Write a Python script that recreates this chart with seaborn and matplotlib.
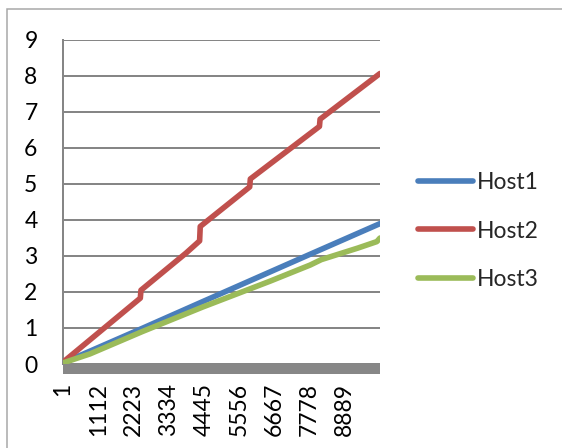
import matplotlib
matplotlib.use("Agg")
import matplotlib.pyplot as plt
from matplotlib.lines import Line2D
from matplotlib.patches import Rectangle
import pandas as pd
import seaborn as sns

# Cumulative values per host, sampled at the record index where the slope changes
host1_x = [1, 2500, 4400, 7800, 10000]
host1_y = [0.03, 0.99, 1.73, 3.05, 3.90]

host2_x = [1, 2440, 2460, 3880, 4310, 4330, 5890, 5910, 8090, 8110, 10000]
host2_y = [0.05, 1.83, 2.05, 3.08, 3.42, 3.82, 4.92, 5.14, 6.60, 6.80, 8.07]

host3_x = [1, 850, 2500, 4400, 6530, 7800, 8150, 9300, 9900, 10000]
host3_y = [0.03, 0.28, 0.90, 1.58, 2.30, 2.75, 2.90, 3.22, 3.40, 3.50]

hosts = ["Host1", "Host2", "Host3"]
colors = ["#4A7EBB", "#C0504D", "#9BBB59"]

x_ticks = [1, 1112, 2223, 3334, 4445, 5556, 6667, 7778, 8889]
x_tick_labels = ["1", "1112", "2223", "3334", "4445", "5556", "6667", "7778", "8889"]
y_ticks = [0, 1, 2, 3, 4, 5, 6, 7, 8, 9]

frames = []
for name, xs, ys in zip(hosts, [host1_x, host2_x, host3_x], [host1_y, host2_y, host3_y]):
    frames.append(pd.DataFrame({"index": xs, "value": ys, "host": name}))
df = pd.concat(frames, ignore_index=True)

sns.set_style("white")
plt.rcParams["font.family"] = ["Lato", "DejaVu Sans"]

GRID = "#868686"
PX = 72 / 100  # points per pixel at dpi 100
FS = 16.5
LW = 5.6 * PX

fig = plt.figure(figsize=(5.62, 4.48), dpi=100)
ax = fig.add_axes([63 / 562, 84 / 448, 317 / 562, 324 / 448])

sns.lineplot(
    data=df, x="index", y="value", hue="host", hue_order=hosts,
    palette=colors, estimator=None, sort=False, legend=False,
    linewidth=LW, ax=ax,
    solid_capstyle="round", solid_joinstyle="round", zorder=3,
)

ax.set_xlim(1, 10000)
ax.set_ylim(0, 9)
ax.set_yticks(y_ticks)
ax.set_yticklabels([str(v) for v in y_ticks])
ax.set_xticks(x_ticks)
ax.set_xticklabels(x_tick_labels)
ax.set_xlabel("")
ax.set_ylabel("")

ax.yaxis.grid(True, color=GRID, linewidth=2 * PX)
ax.xaxis.grid(False)
ax.set_axisbelow(True)

for side in ["top", "right"]:
    ax.spines[side].set_visible(False)
ax.spines["left"].set_color(GRID)
ax.spines["left"].set_linewidth(2 * PX)
ax.spines["bottom"].set_color("#878787")
ax.spines["bottom"].set_linewidth(10 * PX)
ax.spines["bottom"].set_position(("outward", 5 * PX))
ax.spines["bottom"].set_capstyle("butt")

ax.tick_params(axis="y", length=8.5 * PX, width=2 * PX, color=GRID,
               pad=17 * PX, labelsize=FS, labelcolor="black")
ax.tick_params(axis="x", length=0, pad=14 * PX, labelsize=FS,
               labelcolor="black", labelrotation=90)
for lbl in ax.get_xticklabels():
    lbl.set_verticalalignment("top")
    lbl.set_horizontalalignment("center")

handles = [Line2D([0], [0], color=c, linewidth=LW, solid_capstyle="round")
           for c in colors]
fig.legend(
    handles, hosts, loc="center left",
    bbox_to_anchor=(418 / 562, 217 / 448), bbox_transform=fig.transFigure,
    frameon=False, fontsize=FS, borderpad=0, borderaxespad=0,
    handlelength=2.4, handletextpad=0.18, labelspacing=1.22,
)

# Thin outer frame around the chart area
fig.patches.append(Rectangle((7 / 562, -0.1), 1.2, 1 - 9 / 448 + 0.1,
                             transform=fig.transFigure, fill=False,
                             edgecolor="#a6a6a6", linewidth=1.5 * PX))

fig.savefig("out.png", dpi=100)
